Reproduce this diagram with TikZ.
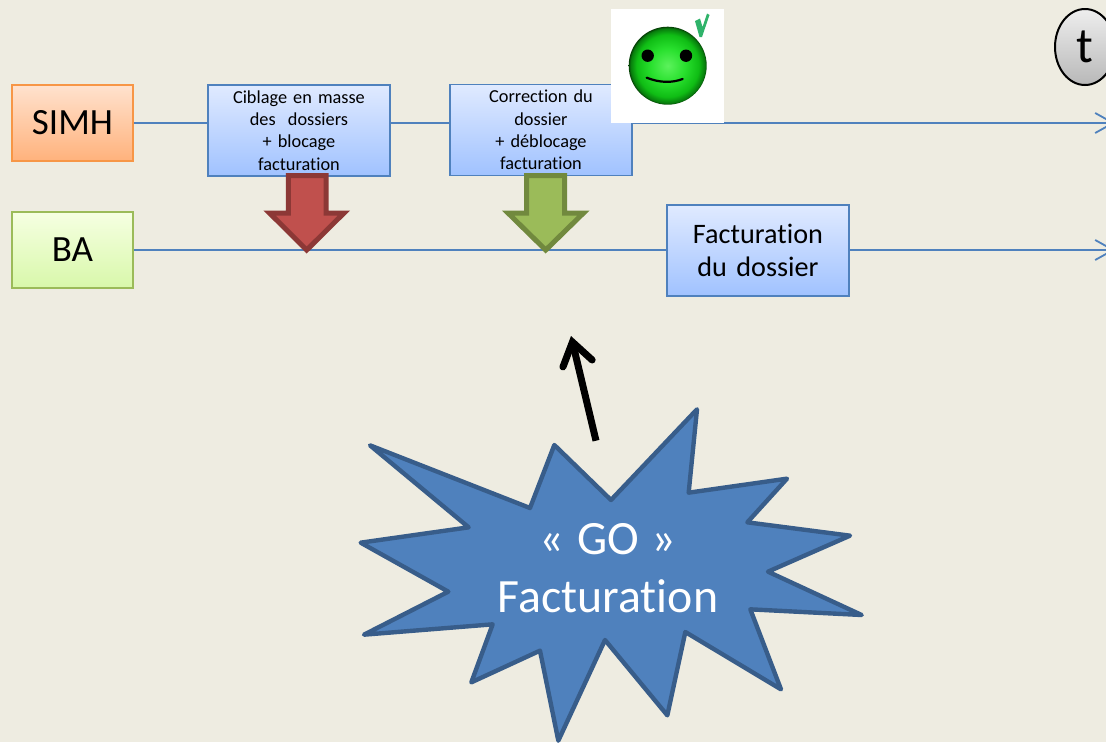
\documentclass[tikz,border=0pt]{standalone}
\usepackage{fontspec}
\setmainfont{Carlito}[Ligatures={NoCommon}]
\usetikzlibrary{arrows.meta,shapes.geometric}
\definecolor{bgc}{HTML}{EEECE1}
\definecolor{linec}{HTML}{4F81BD}
\definecolor{starline}{HTML}{385D8A}
\definecolor{okgreen}{HTML}{2FB36A}
\definecolor{ballA}{rgb}{0.36,0.95,0.36}
\definecolor{ballB}{rgb}{0.16,0.88,0.18}
\definecolor{ballC}{rgb}{0.06,0.74,0.08}
\definecolor{ballD}{rgb}{0.03,0.48,0.05}
\definecolor{ballE}{rgb}{0.02,0.25,0.02}
\pgfdeclareradialshading{ballshade}{\pgfpoint{0bp}{0bp}}{%
  color(0bp)=(ballA);
  color(11bp)=(ballB);
  color(20bp)=(ballC);
  color(24bp)=(ballD);
  color(25bp)=(ballE);
  color(50bp)=(ballE)}
\tikzset{
  lane/.style={draw=linec,line width=1.6pt},
  lanearrow/.style={lane,-{Straight Barb[length=18pt,width=20pt,line width=1.8pt]}},
  basebox/.style={rectangle,anchor=north west,align=center,inner sep=0pt,line width=1.9pt,text=black},
  orangebox/.style={basebox,draw={rgb,255:red,247;green,150;blue,70},top color={rgb,255:red,255;green,226;blue,206},bottom color={rgb,255:red,255;green,178;blue,124},minimum width=121pt,minimum height=76pt,font=\fontsize{37}{40}\selectfont},
  greenbox/.style={basebox,draw={rgb,255:red,155;green,187;blue,89},top color={rgb,255:red,246;green,255;blue,226},bottom color={rgb,255:red,216;green,248;blue,170},minimum width=121pt,minimum height=76pt,font=\fontsize{37}{40}\selectfont},
  bluebox/.style={basebox,draw=linec,top color={rgb,255:red,224;green,234;blue,255},bottom color={rgb,255:red,160;green,194;blue,255}},
  smallbox/.style={bluebox,minimum width=182pt,minimum height=91pt,text width=178pt,font=\fontsize{18.3}{22.3}\selectfont},
  bigbox/.style={bluebox,minimum width=182pt,minimum height=91pt,text width=178pt,font=\fontsize{28.2}{33}\selectfont},
  blockarrow/.style={line width=5pt,miter limit=10,line join=miter},
  star/.style={fill=linec,draw=starline,line width=4.4pt,line join=round},
}
\begin{document}
\begin{tikzpicture}[x=1pt,y=-1pt]
\useasboundingbox (0,0) rectangle (1106,742);
\clip (0,0) rectangle (1106,742);
\fill[bgc] (0,0) rectangle (1106,742);

% lanes and boxes
\node[orangebox] (simh) at (11,84) {\raisebox{-2pt}{SIMH}};
\node[greenbox] (ba) at (11,211) {\raisebox{-2pt}{BA}};
\node[smallbox] (ciblage) at (207,84) {Ciblage en masse\\des\ \ dossiers\\+ blocage\\facturation};
\node[smallbox] (correction) at (449,83.5) {Correction du\\dossier\\+ déblocage\\facturation};
\node[bigbox] (fact) at (666,204) {Facturation\\du dossier};
\coordinate (endsimh) at (1115,123);
\coordinate (endba) at (1115,250);

\draw[lane] (simh.east) -- (simh.east -| ciblage.west);
\draw[lane] (simh.east -| ciblage.east) -- (simh.east -| correction.west);
\draw[lanearrow] (simh.east -| correction.east) -- (endsimh);
\draw[lane] (ba.east) -- (ba.east -| fact.west);
\draw[lanearrow] (ba.east -| fact.east) -- (endba);

% block arrows
\draw[blockarrow,fill={rgb,255:red,192;green,80;blue,77},draw={rgb,255:red,140;green,56;blue,54}]
  (288.3,175.7) -- (326,175.7) -- (326,213) -- (344,213) -- (306.7,250) -- (269.5,213) -- (288.3,213) -- cycle;
\draw[blockarrow,fill={rgb,255:red,155;green,187;blue,89},draw={rgb,255:red,113;green,137;blue,62}]
  (526.7,175.7) -- (564.7,175.7) -- (564.7,213) -- (583.5,213) -- (545.7,250) -- (508,213) -- (526.7,213) -- cycle;

% smiley
\fill[white] (611,9) rectangle (724,123);
\path[shading=ballshade] (667.7,65.7) circle (39);
\fill[black] (647.7,55.7) circle (6.2) (686,55.7) circle (6.2);
\draw[black,line width=2.2pt,line cap=round] (646.7,77.7) .. controls (660,83) and (672,83) .. (682.7,79);
\fill[okgreen] (695,21) -- (700,18.5) -- (702.5,27) -- (707,13.5) -- (709.5,15) -- (702,37) -- (699.5,37) -- cycle;

% t
\node[ellipse,draw=black,line width=2pt,top color={rgb,255:red,238;green,238;blue,238},bottom color={rgb,255:red,184;green,184;blue,184},minimum width=60pt,minimum height=76pt,inner sep=0pt,font=\fontsize{50}{52}\selectfont] (tnode) at (1085,47) {t};

% star
\begin{scope}[shift={(350pt,-320pt)},x=0.33333pt,y=-0.33333pt]
\draw[star] (60,376) -- (540,564) -- (613,375) -- (783,540) -- (1041,268) -- (1016,518) -- (1311,476) -- (1192,607) -- (1500,647) -- (1254,755) -- (1535,885) -- (1201,868) -- (1293,1108) -- (1006,936) -- (952,1186) -- (765,960) -- (625,1262) -- (570,992) -- (364,1087) -- (428,913) -- (42,944) -- (295,815) -- (32,668) -- (356,622) -- cycle;
\end{scope}
\node[align=center,text=white,inner sep=0pt,font=\fontsize{47.8}{58}\selectfont] (go) at (608,568) {«\hspace{2pt} GO \hspace{2pt}»\\Facturation};
\coordinate (gostart) at (596,440.7);
\coordinate (gotip) at (571,336);
\draw[black,line width=7pt,-{Straight Barb[length=22pt,width=30pt,line width=7pt,line cap=round,line join=miter]}] (gostart) -- (gotip);
\end{tikzpicture}
\end{document}
